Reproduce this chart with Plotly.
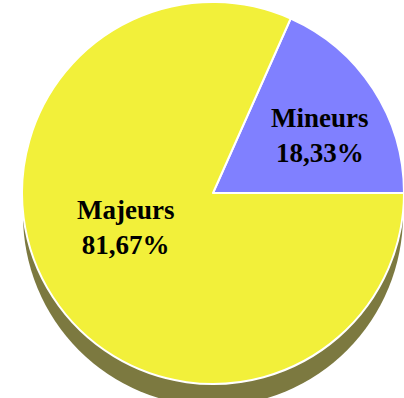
import plotly.graph_objects as go

labels = ["Mineurs", "Majeurs"]
values = [18.33, 81.67]
colors = ["#8080ff", "#f2f03a"]

W, H = 404, 398
cx, cy, r = 213, 193, 191  # pie centre/radius in pixels (top-left origin)
depth = 22

fig = go.Figure()
fig.add_trace(go.Pie(
    labels=labels,
    values=values,
    sort=False,
    direction="clockwise",
    rotation=24,
    marker=dict(colors=colors, line=dict(color="white", width=2)),
    textinfo="none",
    hoverinfo="label+percent",
    showlegend=False,
    domain=dict(x=[(cx - r) / W, min(1.0, (cx + r) / W)],
                y=[max(0.0, 1 - (cy + r) / H), min(1.0, 1 - (cy - r) / H)]),
))

# 3D side of the pie (decorative)
fig.add_shape(type="circle", xref="paper", yref="paper", layer="below",
              x0=(cx - r + 1) / W, x1=(cx + r - 1) / W,
              y0=1 - (cy + r + depth) / H, y1=1 - (cy - r + depth) / H,
              fillcolor="#7c7940", line=dict(width=0))

label_pos = {"Mineurs": (320, 135), "Majeurs": (125, 227)}
for lab, val in zip(labels, values):
    px, py = label_pos[lab]
    txt = f"{lab}<br>{val:.2f}%".replace(".", ",")
    fig.add_annotation(x=px / W, y=1 - py / H, xref="paper", yref="paper",
                       text=txt, showarrow=False, xanchor="center", yanchor="middle",
                       font=dict(family="Liberation Serif", size=27, color="black", weight="bold"))

fig.update_layout(width=W, height=H, margin=dict(l=0, r=0, t=0, b=0),
                  paper_bgcolor="white", plot_bgcolor="white")
fig.write_html("out.html", config={"displayModeBar": False},
               post_script="document.body.style.margin='0';document.body.style.overflow='hidden';")
